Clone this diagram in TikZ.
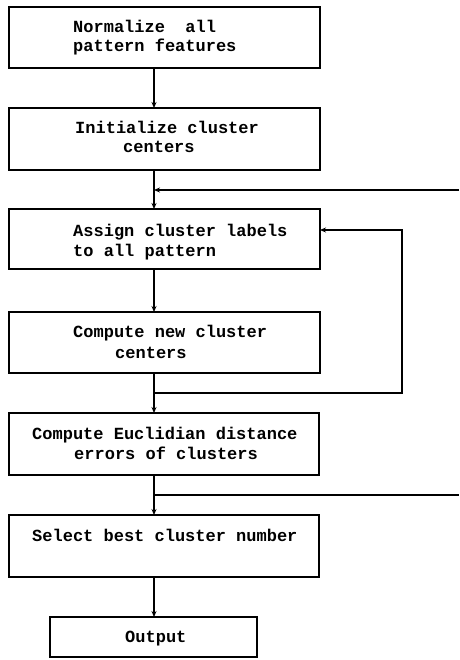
\documentclass[tikz,border=0pt]{standalone}
\usepackage{fontspec}
\setmonofont{Liberation Mono}
\usetikzlibrary{arrows.meta}
\begin{document}
\begin{tikzpicture}[x=1pt,y=-1pt,
  box/.style={draw,line width=1.3pt,rectangle,inner sep=0pt,outer sep=0pt},
  txt/.style={anchor=base west,inner sep=0pt,font=\ttfamily\bfseries\fontsize{17}{20}\selectfont},
  flow/.style={line width=1.2pt},
  arr/.style={flow,-{Stealth[length=6pt,width=5pt]}}]
\useasboundingbox (0,0) rectangle (459,660);

% process boxes
\node[box,minimum width=311pt,minimum height=61pt] (b1) at (164.5,37.5) {};
\node[box,minimum width=311pt,minimum height=62pt] (b2) at (164.5,139) {};
\node[box,minimum width=311pt,minimum height=60pt] (b3) at (164.5,239) {};
\node[box,minimum width=311pt,minimum height=61pt] (b4) at (164.5,342.5) {};
\node[box,minimum width=310pt,minimum height=62pt] (b5) at (164,444) {};
\node[box,minimum width=310pt,minimum height=62pt] (b6) at (164,546) {};
\node[box,minimum width=207pt,minimum height=40pt] (out) at (153.5,637) {};

% box texts
\node[txt] (t1a) at (73,33) {Normalize\ \ all};
\node[txt] (t1b) at (73,52) {pattern features};
\node[txt] (t2a) at (75,134) {Initialize cluster};
\node[txt] (t2b) at (123,153) {centers};
\node[txt] (t3a) at (73,236) {Assign cluster labels};
\node[txt] (t3b) at (73,256) {to all pattern};
\node[txt] (t4a) at (73,337) {Compute new cluster};
\node[txt] (t4b) at (115,358) {centers};
\node[txt] (t5a) at (32,439) {Compute Euclidian distance};
\node[txt] (t5b) at (74,459) {errors of clusters};
\node[txt] (t6) at (32,541) {Select best cluster number};
\node[txt] (t7) at (125,642) {Output};

% main flow axis and junctions
\coordinate (axis) at (154,0);
\coordinate (j1) at (154,190);
\coordinate (e1) at (459,190);
\coordinate (j2) at (154,393);
\coordinate (r2) at (402,393);
\coordinate (r3) at (402,230);
\coordinate (j3) at (154,495);
\coordinate (e3) at (459,495);

\draw[arr] (b1.south -| axis) -- (b2.north -| axis);
\draw[flow] (b2.south -| axis) -- (j1);
\draw[arr] (j1) -- (b3.north -| axis);
\draw[arr] (e1) -- (j1);
\draw[arr] (b3.south -| axis) -- (b4.north -| axis);
\draw[flow] (b4.south -| axis) -- (j2);
\draw[arr] (j2) -- (b5.north -| axis);
\draw[arr] (j2) -- (r2) -- (r3) -- (b3.east |- r3);
\draw[flow] (b5.south -| axis) -- (j3);
\draw[arr] (j3) -- (b6.north -| axis);
\draw[flow] (j3) -- (e3);
\draw[arr] (b6.south -| axis) -- (out.north -| axis);
\end{tikzpicture}
\end{document}
